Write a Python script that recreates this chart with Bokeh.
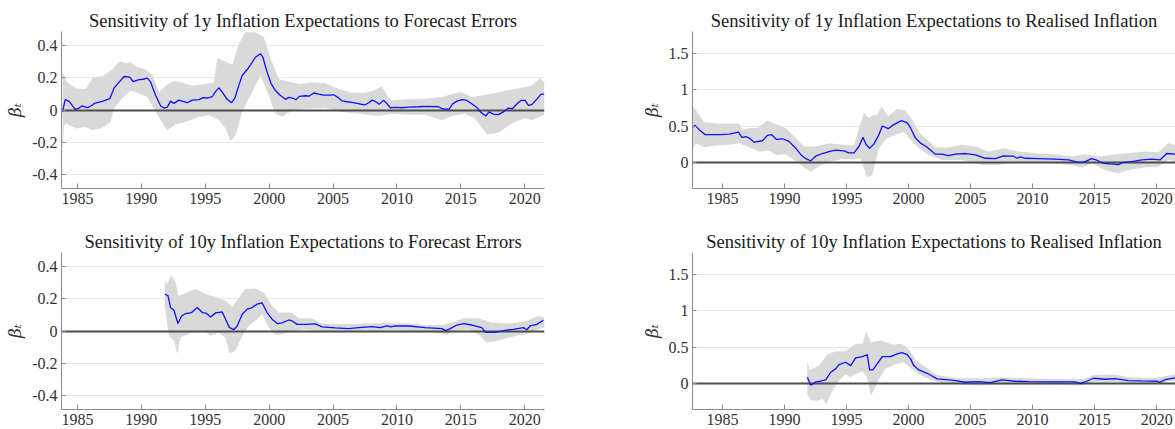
from bokeh.plotting import figure
from bokeh.layouts import column, row
from bokeh.models import Range1d, FixedTicker, CustomJSTickFormatter
from bokeh.embed import file_html
from bokeh.resources import INLINE

# ---------------- data ----------------
# 1y expectations, sensitivity to forecast errors
fe1y_years = [1983.83, 1984.04, 1984.35, 1984.82, 1985.13, 1985.34, 1985.78, 1986.04, 1986.38, 1986.95,
              1987.53, 1987.86, 1988.26, 1988.65, 1989.09, 1989.35, 1989.82, 1990.13, 1990.47, 1990.73,
              1991.12, 1991.51, 1991.77, 1992.03, 1992.29, 1992.55, 1992.94, 1993.26, 1993.59, 1993.98,
              1994.51, 1994.84, 1995.16, 1995.55, 1995.81, 1996.07, 1996.33, 1996.72, 1997.06, 1997.32,
              1997.63, 1997.89, 1998.28, 1998.54, 1998.93, 1999.32, 1999.51, 1999.84, 2000.16, 2000.49,
              2000.89, 2001.28, 2001.54, 2001.80, 2002.11, 2002.37, 2002.84, 2003.15, 2003.49, 2003.88,
              2004.27, 2004.66, 2005.05, 2005.31, 2005.70, 2006.09, 2006.48, 2006.88, 2007.14, 2007.47,
              2007.79, 2008.05, 2008.31, 2008.62, 2008.96, 2009.22, 2009.48, 2009.87, 2010.39, 2010.91,
              2011.69, 2012.47, 2013.26, 2013.52, 2013.78, 2014.09, 2014.35, 2014.69, 2015.13, 2015.47,
              2015.86, 2016.25, 2016.59, 2016.95, 2017.21, 2017.55, 2017.94, 2018.33, 2018.72, 2019.04,
              2019.38, 2019.71, 2020.03, 2020.29, 2020.55, 2020.94, 2021.28, 2021.54]
fe1y_beta = [-0.01, 0.064, 0.053, 0.004, 0.012, 0.025, 0.014, 0.025, 0.043, 0.053,
             0.07, 0.135, 0.172, 0.207, 0.203, 0.176, 0.188, 0.19, 0.197, 0.172,
             0.09, 0.025, 0.012, 0.018, 0.055, 0.041, 0.061, 0.053, 0.045, 0.061,
             0.064, 0.076, 0.074, 0.082, 0.115, 0.137, 0.111, 0.066, 0.045, 0.074,
             0.152, 0.213, 0.25, 0.279, 0.326, 0.348, 0.326, 0.234, 0.162, 0.121,
             0.09, 0.066, 0.078, 0.074, 0.064, 0.084, 0.088, 0.086, 0.105, 0.098,
             0.092, 0.092, 0.094, 0.082, 0.057, 0.051, 0.047, 0.041, 0.037, 0.031,
             0.045, 0.061, 0.053, 0.035, 0.061, 0.039, 0.014, 0.016, 0.014, 0.018,
             0.02, 0.023, 0.02, 0.008, 0.006, 0.006, 0.037, 0.055, 0.064, 0.059,
             0.039, 0.016, -0.016, -0.037, -0.012, -0.025, -0.029, -0.012, 0.012, 0.008,
             0.037, 0.059, 0.059, 0.029, 0.033, 0.066, 0.098, 0.098]
fe1y_upper_years = [1983.83, 1984.22, 1984.87, 1985.65, 1986.17, 1986.95, 1987.73, 1988.26, 1988.78, 1989.17,
                    1989.69, 1990.34, 1990.86, 1991.38, 1991.90, 1992.55, 1993.20, 1993.98, 1995.03, 1995.68,
                    1995.94, 1996.46, 1997.11, 1997.63, 1998.15, 1998.93, 1999.58, 2000.23, 2000.76, 2001.54,
                    2002.32, 2003.36, 2004.40, 2005.44, 2006.48, 2007.53, 2008.18, 2008.83, 2009.22, 2009.61,
                    2010.91, 2012.21, 2013.52, 2014.43, 2015.08, 2015.86, 2016.64, 2017.94, 2019.51, 2020.55,
                    2021.20, 2021.54]
fe1y_upper = [0.23, 0.17, 0.135, 0.13, 0.2, 0.21, 0.25, 0.30, 0.29, 0.295,
              0.265, 0.25, 0.22, 0.11, 0.15, 0.18, 0.17, 0.15, 0.16, 0.17,
              0.32, 0.305, 0.28, 0.41, 0.48, 0.48, 0.45, 0.295, 0.19, 0.176,
              0.16, 0.17, 0.166, 0.13, 0.107, 0.107, 0.12, 0.147, 0.09, 0.06,
              0.066, 0.07, 0.08, 0.10, 0.11, 0.08, 0.09, 0.11, 0.135, 0.15,
              0.197, 0.17]
fe1y_lower_years = [1983.83, 1983.95, 1984.09, 1984.87, 1985.65, 1986.17, 1986.95, 1987.60, 1987.86, 1988.52,
                    1989.17, 1989.82, 1990.47, 1990.99, 1991.51, 1992.03, 1992.68, 1993.46, 1994.51, 1995.29,
                    1996.07, 1996.59, 1996.98, 1997.37, 1997.89, 1998.54, 1999.32, 1999.97, 2000.49, 2001.02,
                    2001.80, 2002.84, 2004.40, 2005.70, 2007.01, 2008.57, 2009.61, 2010.91, 2012.21, 2013.52,
                    2014.30, 2015.34, 2016.12, 2017.03, 2017.94, 2018.98, 2020.03, 2020.55, 2021.33, 2021.54]
fe1y_lower = [-0.27, -0.10, -0.084, -0.115, -0.105, -0.125, -0.11, -0.074, 0.008, 0.074,
              0.12, 0.10, 0.08, 0.008, -0.064, -0.125, -0.09, -0.074, -0.043, -0.033,
              -0.064, -0.115, -0.193, -0.156, -0.012, 0.09, 0.213, 0.09, -0.023, -0.043,
              -0.002, 0.008, 0.012, -0.012, -0.023, -0.037, -0.023, -0.029, -0.029, -0.064,
              -0.037, -0.023, -0.053, -0.152, -0.14, -0.084, -0.049, -0.064, -0.037, -0.03]

# 1y expectations, sensitivity to realised inflation
ri1y_years = [1982.59, 1982.80, 1983.12, 1983.61, 1984.20, 1984.87, 1985.54, 1986.29, 1986.56, 1986.93,
              1987.15, 1987.55, 1988.22, 1988.62, 1988.97, 1989.35, 1989.83, 1990.36, 1990.90, 1991.38,
              1991.76, 1992.11, 1992.51, 1993.05, 1993.58, 1994.12, 1994.79, 1995.19, 1995.60, 1996.00,
              1996.32, 1996.59, 1996.86, 1997.20, 1997.61, 1997.88, 1998.36, 1998.81, 1999.43, 1999.89,
              2000.16, 2000.56, 2000.96, 2001.42, 2001.90, 2002.17, 2002.70, 2003.19, 2003.78, 2004.58,
              2005.39, 2006.19, 2007.00, 2007.67, 2008.47, 2008.74, 2009.01, 2009.41, 2010.48, 2011.82,
              2012.90, 2013.70, 2014.18, 2014.77, 2015.18, 2015.71, 2016.25, 2016.92, 2017.32, 2017.99,
              2018.80, 2019.60, 2020.27, 2020.81, 2021.48]
ri1y_beta = [0.49, 0.515, 0.456, 0.387, 0.387, 0.387, 0.396, 0.423, 0.35, 0.359,
             0.34, 0.285, 0.304, 0.377, 0.387, 0.322, 0.331, 0.295, 0.202, 0.101,
             0.055, 0.028, 0.092, 0.129, 0.156, 0.175, 0.166, 0.138, 0.138, 0.225,
             0.35, 0.248, 0.202, 0.258, 0.387, 0.506, 0.469, 0.525, 0.58, 0.548,
             0.479, 0.34, 0.272, 0.225, 0.156, 0.12, 0.12, 0.101, 0.12, 0.129,
             0.11, 0.064, 0.06, 0.097, 0.092, 0.064, 0.083, 0.064, 0.06, 0.051,
             0.041, 0.009, 0.014, 0.06, 0.037, -0.005, -0.014, -0.023, 0.009, 0.018,
             0.041, 0.051, 0.041, 0.129, 0.12]
ri1y_upper_years = [1982.59, 1982.99, 1983.52, 1984.46, 1985.54, 1986.34, 1986.56, 1987.15, 1987.82, 1988.62,
                    1989.29, 1990.10, 1990.90, 1991.57, 1992.51, 1993.58, 1994.66, 1995.60, 1996.00, 1996.40,
                    1996.80, 1997.12, 1997.47, 1997.82, 1998.36, 1999.08, 1999.75, 2000.29, 2000.83, 2001.50,
                    2002.17, 2003.24, 2004.31, 2005.39, 2006.46, 2007.67, 2008.87, 2010.48, 2011.82, 2013.17,
                    2014.24, 2015.31, 2016.38, 2017.46, 2019.07, 2020.14, 2020.94, 2021.48]
ri1y_upper = [0.79, 0.686, 0.557, 0.543, 0.538, 0.543, 0.456, 0.479, 0.479, 0.58,
              0.534, 0.479, 0.34, 0.225, 0.225, 0.27, 0.248, 0.239, 0.479, 0.686,
              0.617, 0.653, 0.653, 0.778, 0.64, 0.741, 0.718, 0.594, 0.423, 0.318,
              0.212, 0.212, 0.248, 0.225, 0.156, 0.202, 0.156, 0.129, 0.12, 0.087,
              0.12, 0.087, 0.11, 0.129, 0.156, 0.147, 0.27, 0.248]
ri1y_lower_years = [1982.59, 1982.85, 1983.52, 1984.46, 1985.54, 1986.34, 1987.15, 1987.95, 1988.62, 1989.35,
                    1990.10, 1990.90, 1991.57, 1992.11, 1992.51, 1993.58, 1994.66, 1995.73, 1996.13, 1996.40,
                    1996.67, 1997.07, 1997.34, 1997.61, 1998.28, 1998.95, 1999.62, 2000.16, 2000.83, 2001.63,
                    2002.70, 2004.31, 2005.92, 2007.26, 2008.87, 2010.48, 2011.82, 2013.17, 2013.97, 2014.77,
                    2015.85, 2016.92, 2017.73, 2019.07, 2020.14, 2020.94, 2021.48]
ri1y_lower = [0.17, 0.27, 0.216, 0.239, 0.248, 0.27, 0.216, 0.156, 0.175, 0.11,
              0.12, 0.028, -0.064, -0.12, -0.074, 0.018, 0.055, 0.05, 0.064, -0.074,
              -0.202, -0.166, 0.018, 0.202, 0.34, 0.387, 0.423, 0.318, 0.202, 0.11,
              0.041, 0.041, -0.028, -0.028, 0.009, 0.009, -0.005, -0.028, -0.064, -0.005,
              -0.097, -0.143, -0.097, -0.064, -0.051, 0.041, 0.018]

# 10y expectations, sensitivity to forecast errors
fe10y_years = [1991.85, 1992.08, 1992.29, 1992.55, 1992.86, 1993.15, 1993.46, 1993.93, 1994.38, 1994.77,
               1995.08, 1995.42, 1995.81, 1996.33, 1996.59, 1996.90, 1997.24, 1997.50, 1997.89, 1998.28,
               1998.67, 1999.06, 1999.45, 1999.84, 2000.23, 2000.63, 2001.02, 2001.54, 2001.80, 2002.19,
               2002.84, 2003.62, 2004.14, 2005.18, 2006.22, 2007.01, 2008.05, 2008.70, 2009.22, 2009.56,
               2009.87, 2010.91, 2012.21, 2013.52, 2013.83, 2014.17, 2014.69, 2015.21, 2015.86, 2016.64,
               2016.95, 2017.68, 2018.46, 2019.11, 2019.90, 2020.16, 2020.42, 2020.94, 2021.46]
fe10y_beta = [0.228, 0.218, 0.145, 0.128, 0.046, 0.093, 0.108, 0.114, 0.145, 0.114,
              0.11, 0.087, 0.112, 0.118, 0.073, 0.021, 0.008, 0.031, 0.104, 0.135,
              0.145, 0.166, 0.174, 0.114, 0.073, 0.046, 0.05, 0.068, 0.062, 0.041,
              0.041, 0.044, 0.025, 0.019, 0.015, 0.021, 0.027, 0.021, 0.031, 0.025,
              0.031, 0.031, 0.021, 0.015, 0.002, 0.015, 0.037, 0.046, 0.037, 0.021,
              -0.008, -0.008, 0.004, 0.01, 0.021, 0.008, 0.031, 0.041, 0.066]
fe10y_upper_years = [1991.85, 1992.03, 1992.34, 1992.68, 1992.89, 1993.59, 1994.24, 1995.03, 1995.81, 1996.59,
                     1997.11, 1997.63, 1998.15, 1998.93, 1999.58, 2000.23, 2000.76, 2001.80, 2002.32, 2003.36,
                     2004.14, 2005.70, 2007.53, 2009.35, 2010.91, 2012.21, 2013.52, 2014.30, 2015.21, 2016.38,
                     2017.42, 2018.72, 2020.03, 2021.07, 2021.54]
fe10y_upper = [0.311, 0.29, 0.346, 0.30, 0.218, 0.238, 0.259, 0.228, 0.211, 0.187,
               0.149, 0.207, 0.259, 0.263, 0.238, 0.155, 0.114, 0.114, 0.077, 0.079,
               0.046, 0.041, 0.046, 0.05, 0.046, 0.037, 0.037, 0.052, 0.079, 0.079,
               0.052, 0.046, 0.058, 0.093, 0.083]
fe10y_lower_years = [1991.85, 1992.16, 1992.55, 1992.81, 1993.07, 1993.59, 1994.24, 1995.03, 1995.42, 1996.07,
                     1996.59, 1996.90, 1997.37, 1997.89, 1998.41, 1999.06, 1999.45, 1999.97, 2000.49, 2001.15,
                     2001.80, 2002.84, 2004.14, 2005.70, 2007.53, 2009.35, 2010.91, 2012.21, 2013.52, 2013.91,
                     2014.56, 2015.60, 2016.38, 2017.03, 2017.94, 2019.24, 2020.29, 2021.07, 2021.54]
fe10y_lower = [0.145, -0.031, -0.062, -0.141, -0.037, -0.025, 0.0, -0.004, -0.031, -0.01,
               -0.041, -0.141, -0.12, -0.031, 0.031, 0.073, 0.104, 0.021, -0.025, -0.017,
               0.0, 0.01, -0.004, -0.01, -0.004, 0.004, 0.0, -0.004, -0.017, -0.025,
               0.0, 0.01, -0.021, -0.073, -0.058, -0.031, -0.017, 0.01, 0.021]

# 10y expectations, sensitivity to realised inflation
ri10y_years = [1991.84, 1992.11, 1992.51, 1992.91, 1993.32, 1993.72, 1994.12, 1994.39, 1994.92, 1995.33,
               1995.73, 1996.27, 1996.67, 1996.86, 1997.12, 1997.47, 1997.88, 1998.55, 1999.08, 1999.48,
               1999.89, 2000.16, 2000.42, 2000.83, 2001.50, 2002.30, 2003.24, 2003.78, 2004.58, 2005.65,
               2006.59, 2007.53, 2008.61, 2009.68, 2011.02, 2012.36, 2013.43, 2013.84, 2014.24, 2014.91,
               2015.85, 2016.65, 2017.73, 2018.80, 2020.00, 2020.27, 2020.68, 2021.48]
ri10y_beta = [0.091, -0.018, 0.027, 0.037, 0.055, 0.16, 0.206, 0.265, 0.297, 0.251,
              0.357, 0.375, 0.402, 0.192, 0.192, 0.274, 0.375, 0.375, 0.411, 0.43,
              0.402, 0.343, 0.251, 0.192, 0.146, 0.069, 0.055, 0.046, 0.023, 0.032,
              0.018, 0.055, 0.037, 0.032, 0.027, 0.027, 0.027, 0.009, 0.027, 0.078,
              0.064, 0.073, 0.046, 0.041, 0.037, 0.023, 0.059, 0.082]
ri10y_upper_years = [1991.84, 1992.03, 1992.78, 1993.45, 1994.12, 1994.92, 1995.73, 1996.27, 1996.61, 1996.94,
                     1997.74, 1998.68, 1999.48, 2000.02, 2000.56, 2001.36, 2002.30, 2003.78, 2005.39, 2007.53,
                     2009.14, 2011.29, 2013.43, 2014.24, 2014.91, 2016.65, 2017.73, 2019.87, 2020.94, 2021.48]
ri10y_upper = [0.311, 0.192, 0.251, 0.402, 0.448, 0.448, 0.549, 0.549, 0.722, 0.572,
               0.594, 0.54, 0.549, 0.48, 0.329, 0.229, 0.123, 0.082, 0.073, 0.091,
               0.078, 0.069, 0.064, 0.069, 0.123, 0.128, 0.091, 0.082, 0.114, 0.128]
ri10y_lower_years = [1991.84, 1992.11, 1992.64, 1993.05, 1993.37, 1993.72, 1994.39, 1994.92, 1995.33, 1995.73,
                     1996.27, 1996.67, 1996.94, 1997.20, 1997.61, 1998.14, 1998.95, 1999.62, 2000.16, 2000.83,
                     2001.63, 2002.44, 2003.78, 2005.39, 2007.53, 2009.68, 2011.82, 2013.70, 2014.91, 2016.65,
                     2018.26, 2020.14, 2020.94, 2021.48]
ri10y_lower = [-0.137, -0.219, -0.229, -0.206, -0.274, -0.137, 0.046, 0.128, 0.091, 0.137,
               0.174, 0.091, -0.16, -0.091, 0.069, 0.206, 0.274, 0.297, 0.219, 0.128,
               0.069, 0.023, 0.0, -0.023, -0.009, -0.009, -0.009, -0.023, 0.023, 0.023,
               0.0, 0.0, 0.037, 0.046]

year_ticks = [1985, 1990, 1995, 2000, 2005, 2010, 2015, 2020]
fe_ticks = [-0.4, -0.2, 0, 0.2, 0.4]
ri_ticks = [0, 0.5, 1, 1.5]

titles = [
    "Sensitivity of 1y Inflation Expectations to Forecast Errors",
    "Sensitivity of 1y Inflation Expectations to Realised Inflation",
    "Sensitivity of 10y Inflation Expectations to Forecast Errors",
    "Sensitivity of 10y Inflation Expectations to Realised Inflation",
]

# ---------------- styling ----------------
SERIF = "Liberation Serif"
BAND = "#d9d9d9"
LINE = "#1010ff"
AXIS = "#8c8c8c"
TEXT = "#333333"


def panel(title, years, beta, up_x, up_y, lo_x, lo_y, xr, yr, yticks,
          width, height, left, right, top, bottom):
    p = figure(width=width, height=height, output_backend="svg", toolbar_location=None,
               x_range=Range1d(*xr), y_range=Range1d(*yr),
               min_border_left=left, min_border_right=right,
               min_border_top=top, min_border_bottom=bottom,
               background_fill_color="white", border_fill_color="white",
               outline_line_color=None)
    p.title.text = title
    p.title.align = "center"
    p.title.text_font = SERIF
    p.title.text_font_size = "18.5px"
    p.title.text_font_style = "normal"
    p.title.text_color = "#1a1a1a"
    p.title.standoff = 1

    # confidence band as a closed polygon: upper edge then lower edge reversed
    p.patch(up_x + lo_x[::-1], up_y + lo_y[::-1], fill_color=BAND, line_color=None)
    p.hspan(y=[0], line_color="#4d4d4d", line_width=2)
    p.line(years, beta, line_color=LINE, line_width=1.3)

    p.xaxis.ticker = FixedTicker(ticks=year_ticks)
    p.yaxis.ticker = FixedTicker(ticks=yticks)
    p.yaxis.formatter = CustomJSTickFormatter(code="return String(Math.round(tick * 10) / 10);")
    for ax in (p.xaxis[0], p.yaxis[0]):
        ax.axis_line_color = AXIS
        ax.major_tick_line_color = AXIS
        ax.major_tick_out = 0
        ax.minor_tick_line_color = None
        ax.major_label_text_font = SERIF
        ax.major_label_text_font_size = "16px"
        ax.major_label_text_color = TEXT
    p.xaxis.major_tick_in = 5
    p.yaxis.major_tick_in = 4
    p.xaxis.major_label_standoff = 4
    p.yaxis.major_label_standoff = 4

    p.yaxis.axis_label = "βₜ"
    p.yaxis.axis_label_text_font = "DejaVu Serif"
    p.yaxis.axis_label_text_font_style = "italic"
    p.yaxis.axis_label_text_font_size = "17px"
    p.yaxis.axis_label_text_color = TEXT
    p.yaxis.axis_label_standoff = 4

    p.xgrid.grid_line_color = None
    p.ygrid.grid_line_color = "#e8e8e8"
    p.ygrid.grid_line_width = 1
    return p


fe_range = (-0.485, 0.485)
ri_range = (-0.35, 1.80)
left_x = (1983.75, 2021.55)
right_x = (1982.58, 2021.52)

p1 = panel(titles[0], fe1y_years, fe1y_beta, fe1y_upper_years, fe1y_upper, fe1y_lower_years, fe1y_lower,
           left_x, fe_range, fe_ticks, 631, 212, 61, 87, 31, 24)
p2 = panel(titles[1], ri1y_years, ri1y_beta, ri1y_upper_years, ri1y_upper, ri1y_lower_years, ri1y_lower,
           right_x, ri_range, ri_ticks, 544, 212, 61, 0, 31, 24)
p3 = panel(titles[2], fe10y_years, fe10y_beta, fe10y_upper_years, fe10y_upper, fe10y_lower_years, fe10y_lower,
           left_x, fe_range, fe_ticks, 631, 217, 61, 87, 40, 20)
p4 = panel(titles[3], ri10y_years, ri10y_beta, ri10y_upper_years, ri10y_upper, ri10y_lower_years, ri10y_lower,
           right_x, ri_range, ri_ticks, 544, 217, 61, 0, 40, 20)

layout = column(row(p1, p2), row(p3, p4))
open("out.html", "w").write(file_html(layout, INLINE))
